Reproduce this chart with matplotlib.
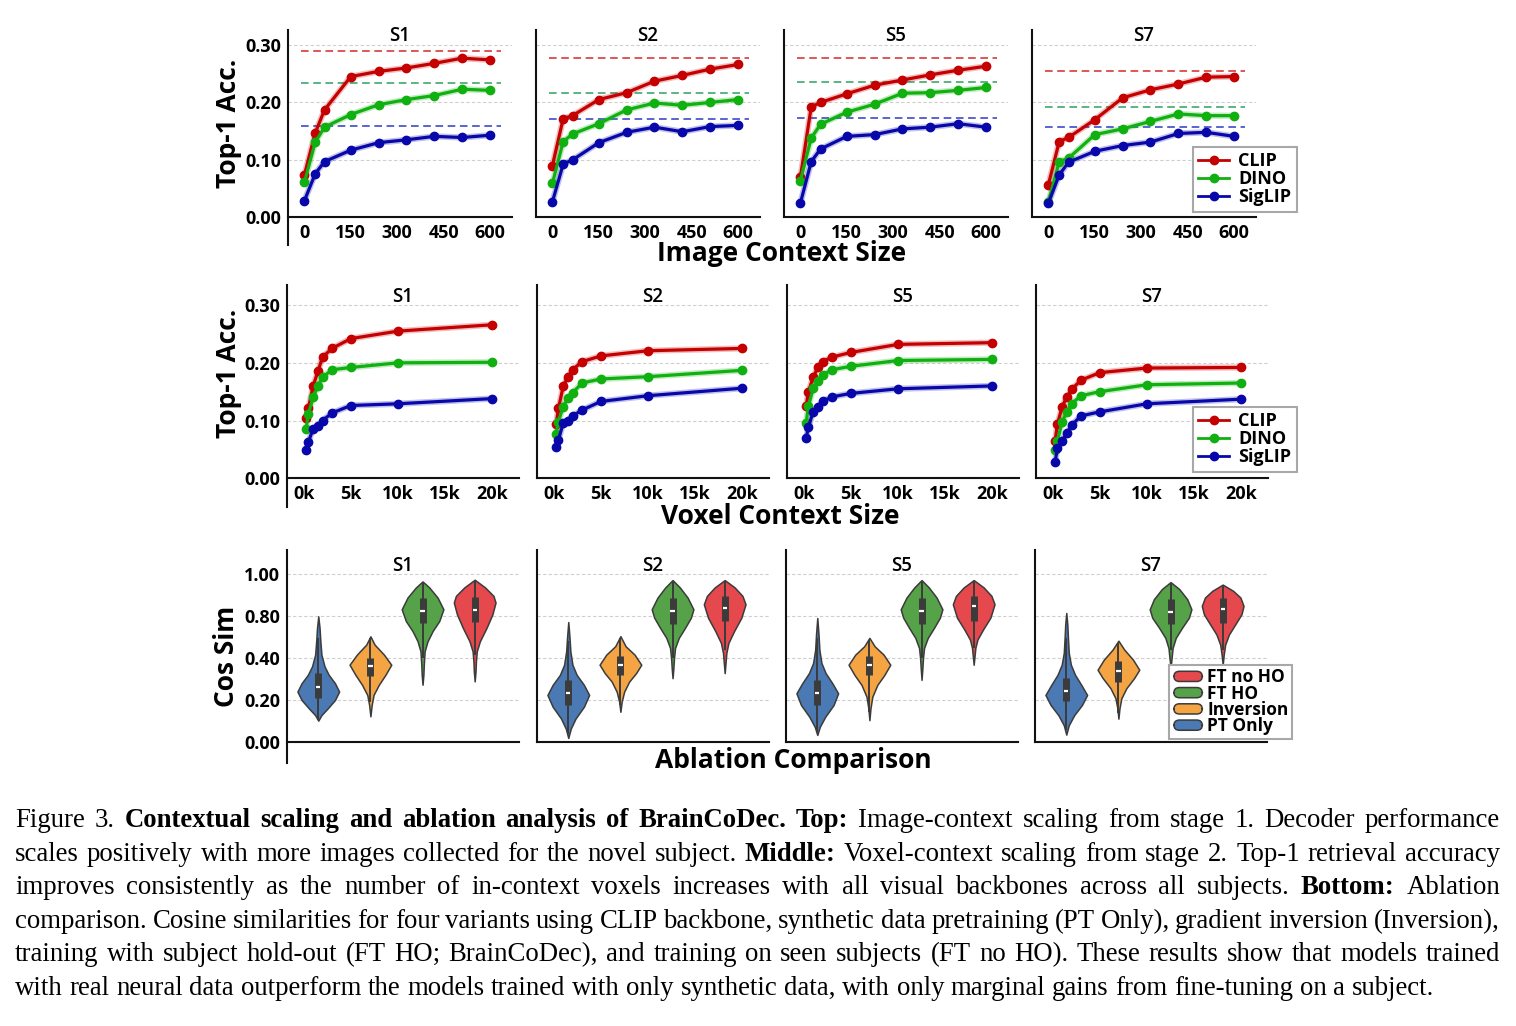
import numpy as np
import matplotlib
matplotlib.use("Agg")
import matplotlib.pyplot as plt
from matplotlib.lines import Line2D
from matplotlib.patches import Patch, FancyBboxPatch
from matplotlib.legend_handler import HandlerPatch

# ====================== DATA ======================
subjects = ["S1", "S2", "S5", "S7"]
backbones = ["CLIP", "DINO", "SigLIP"]

# ---- top row: image context scaling ----
img_ctx_x = [0, 35, 65, 150, 240, 330, 420, 510, 600]
img_xticks = [0, 150, 300, 450, 600]
acc_yticks = [0.0, 0.1, 0.2, 0.3]
acc_yticklabels = ["0.00", "0.10", "0.20", "0.30"]

img_s1 = {"CLIP":   [0.074, 0.147, 0.187, 0.245, 0.254, 0.260, 0.268, 0.277, 0.274],
          "DINO":   [0.061, 0.131, 0.157, 0.179, 0.196, 0.205, 0.212, 0.223, 0.221],
          "SigLIP": [0.029, 0.076, 0.097, 0.117, 0.130, 0.135, 0.141, 0.139, 0.143]}
img_s2 = {"CLIP":   [0.090, 0.172, 0.177, 0.205, 0.217, 0.237, 0.247, 0.258, 0.266],
          "DINO":   [0.059, 0.132, 0.145, 0.163, 0.187, 0.199, 0.195, 0.200, 0.205],
          "SigLIP": [0.027, 0.093, 0.100, 0.130, 0.148, 0.157, 0.149, 0.158, 0.160]}
img_s5 = {"CLIP":   [0.070, 0.192, 0.200, 0.215, 0.230, 0.239, 0.248, 0.256, 0.263],
          "DINO":   [0.064, 0.138, 0.162, 0.183, 0.197, 0.216, 0.217, 0.221, 0.226],
          "SigLIP": [0.025, 0.097, 0.119, 0.141, 0.144, 0.154, 0.157, 0.163, 0.157]}
img_s7 = {"CLIP":   [0.057, 0.132, 0.139, 0.170, 0.208, 0.222, 0.232, 0.244, 0.245],
          "DINO":   [0.027, 0.097, 0.103, 0.144, 0.154, 0.167, 0.180, 0.177, 0.177],
          "SigLIP": [0.025, 0.074, 0.096, 0.115, 0.125, 0.131, 0.146, 0.148, 0.141]}
# dashed reference levels
img_ref_s1 = {"CLIP": 0.290, "DINO": 0.233, "SigLIP": 0.159}
img_ref_s2 = {"CLIP": 0.278, "DINO": 0.216, "SigLIP": 0.171}
img_ref_s5 = {"CLIP": 0.277, "DINO": 0.235, "SigLIP": 0.173}
img_ref_s7 = {"CLIP": 0.254, "DINO": 0.192, "SigLIP": 0.158}
img_ref_span = [-10, 635]

# ---- middle row: voxel context scaling ----
vox_ctx_x = [250, 500, 1000, 1500, 2000, 3000, 5000, 10000, 20000]
vox_xticks = [0, 5000, 10000, 15000, 20000]
vox_xticklabels = ["0k", "5k", "10k", "15k", "20k"]

vox_s1 = {"CLIP":   [0.105, 0.122, 0.160, 0.185, 0.210, 0.225, 0.242, 0.255, 0.266],
          "DINO":   [0.086, 0.112, 0.140, 0.160, 0.175, 0.188, 0.192, 0.200, 0.201],
          "SigLIP": [0.049, 0.063, 0.086, 0.090, 0.100, 0.113, 0.126, 0.129, 0.138]}
vox_s2 = {"CLIP":   [0.094, 0.121, 0.159, 0.176, 0.188, 0.202, 0.212, 0.221, 0.225],
          "DINO":   [0.077, 0.098, 0.124, 0.139, 0.148, 0.165, 0.172, 0.176, 0.187],
          "SigLIP": [0.054, 0.067, 0.095, 0.100, 0.108, 0.118, 0.133, 0.143, 0.156]}
vox_s5 = {"CLIP":   [0.125, 0.150, 0.175, 0.192, 0.202, 0.210, 0.218, 0.232, 0.235],
          "DINO":   [0.096, 0.125, 0.156, 0.168, 0.179, 0.188, 0.194, 0.204, 0.206],
          "SigLIP": [0.069, 0.089, 0.115, 0.124, 0.133, 0.141, 0.147, 0.155, 0.160]}
vox_s7 = {"CLIP":   [0.065, 0.094, 0.124, 0.141, 0.154, 0.170, 0.183, 0.191, 0.192],
          "DINO":   [0.049, 0.065, 0.098, 0.115, 0.129, 0.143, 0.150, 0.162, 0.165],
          "SigLIP": [0.028, 0.052, 0.065, 0.078, 0.092, 0.108, 0.115, 0.129, 0.137]}

# ---- bottom row: ablation violins ----
variants = ["PT Only", "Inversion", "FT HO", "FT no HO"]
cos_yticks = [0.0, 0.25, 0.5, 0.75, 1.0]
cos_yticklabels = ["0.00", "0.20", "0.40", "0.80", "1.00"]

# density profile: levels (y) and relative half-width
vio_s1_levels = {"PT Only":   [0.127, 0.16, 0.20, 0.25, 0.30, 0.35, 0.40, 0.45, 0.52, 0.60, 0.68, 0.748],
                 "Inversion": [0.153, 0.22, 0.28, 0.34, 0.40, 0.46, 0.52, 0.58, 0.629],
                 "FT HO":     [0.341, 0.40, 0.46, 0.54, 0.60, 0.66, 0.72, 0.79, 0.86, 0.92, 0.956],
                 "FT no HO":  [0.361, 0.42, 0.48, 0.54, 0.60, 0.68, 0.76, 0.83, 0.87, 0.92, 0.966]}
vio_s1_widths = {"PT Only":   [0, 0.15, 0.45, 0.8, 1.0, 0.8, 0.5, 0.3, 0.15, 0.1, 0.06, 0],
                 "Inversion": [0, 0.06, 0.15, 0.4, 0.72, 1.0, 0.65, 0.2, 0],
                 "FT HO":     [0, 0.04, 0.06, 0.1, 0.24, 0.48, 0.8, 1.0, 0.72, 0.32, 0],
                 "FT no HO":  [0, 0.04, 0.06, 0.1, 0.25, 0.57, 0.85, 1.0, 0.9, 0.5, 0]}
vio_s1_box = {"PT Only": [0.13, 0.26, 0.325, 0.41, 0.62], "Inversion": [0.24, 0.39, 0.45, 0.50, 0.62],
              "FT HO": [0.50, 0.71, 0.778, 0.86, 0.95], "FT no HO": [0.52, 0.715, 0.788, 0.865, 0.96]}

vio_s2_levels = {"PT Only":   [0.024, 0.08, 0.14, 0.21, 0.28, 0.34, 0.40, 0.46, 0.54, 0.62, 0.714],
                 "Inversion": [0.18, 0.24, 0.30, 0.36, 0.41, 0.46, 0.52, 0.57, 0.63],
                 "FT HO":     [0.38, 0.44, 0.50, 0.56, 0.62, 0.68, 0.74, 0.79, 0.86, 0.92, 0.964],
                 "FT no HO":  [0.41, 0.47, 0.53, 0.59, 0.66, 0.74, 0.82, 0.87, 0.92, 0.964]}
vio_s2_widths = {"PT Only":   [0, 0.12, 0.35, 0.75, 1.0, 0.75, 0.4, 0.2, 0.1, 0.06, 0],
                 "Inversion": [0, 0.06, 0.18, 0.42, 0.75, 1.0, 0.68, 0.25, 0],
                 "FT HO":     [0, 0.04, 0.07, 0.12, 0.3, 0.6, 0.88, 1.0, 0.72, 0.35, 0],
                 "FT no HO":  [0, 0.04, 0.08, 0.18, 0.45, 0.8, 1.0, 0.85, 0.48, 0]}
vio_s2_box = {"PT Only": [0.05, 0.22, 0.29, 0.37, 0.60], "Inversion": [0.22, 0.40, 0.46, 0.51, 0.62],
              "FT HO": [0.50, 0.70, 0.78, 0.86, 0.95], "FT no HO": [0.55, 0.72, 0.80, 0.87, 0.955]}

vio_s5_levels = {"PT Only":   [0.042, 0.09, 0.15, 0.22, 0.29, 0.35, 0.41, 0.47, 0.55, 0.64, 0.738],
                 "Inversion": [0.13, 0.20, 0.27, 0.34, 0.40, 0.46, 0.52, 0.57, 0.62],
                 "FT HO":     [0.37, 0.44, 0.50, 0.56, 0.62, 0.68, 0.74, 0.79, 0.86, 0.92, 0.964],
                 "FT no HO":  [0.46, 0.51, 0.56, 0.61, 0.67, 0.74, 0.82, 0.87, 0.92, 0.964]}
vio_s5_widths = {"PT Only":   [0, 0.12, 0.38, 0.78, 1.0, 0.72, 0.4, 0.2, 0.1, 0.06, 0],
                 "Inversion": [0, 0.05, 0.14, 0.38, 0.72, 1.0, 0.68, 0.25, 0],
                 "FT HO":     [0, 0.04, 0.07, 0.12, 0.3, 0.6, 0.88, 1.0, 0.72, 0.35, 0],
                 "FT no HO":  [0, 0.04, 0.08, 0.18, 0.45, 0.8, 1.0, 0.85, 0.48, 0]}
vio_s5_box = {"PT Only": [0.06, 0.22, 0.29, 0.37, 0.62], "Inversion": [0.18, 0.40, 0.46, 0.51, 0.61],
              "FT HO": [0.50, 0.70, 0.78, 0.86, 0.95], "FT no HO": [0.56, 0.72, 0.81, 0.87, 0.955]}

vio_s7_levels = {"PT Only":   [0.044, 0.10, 0.16, 0.22, 0.28, 0.34, 0.40, 0.46, 0.53, 0.62, 0.70, 0.768],
                 "Inversion": [0.139, 0.20, 0.26, 0.32, 0.38, 0.43, 0.49, 0.55, 0.603],
                 "FT HO":     [0.44, 0.50, 0.56, 0.62, 0.68, 0.74, 0.79, 0.85, 0.91, 0.952],
                 "FT no HO":  [0.46, 0.52, 0.58, 0.64, 0.70, 0.76, 0.81, 0.86, 0.90, 0.937]}
vio_s7_widths = {"PT Only":   [0, 0.12, 0.38, 0.75, 1.0, 0.72, 0.42, 0.22, 0.12, 0.08, 0.05, 0],
                 "Inversion": [0, 0.05, 0.14, 0.38, 0.75, 1.0, 0.7, 0.28, 0],
                 "FT HO":     [0, 0.05, 0.1, 0.25, 0.55, 0.88, 1.0, 0.8, 0.42, 0],
                 "FT no HO":  [0, 0.05, 0.12, 0.3, 0.6, 0.9, 1.0, 0.85, 0.5, 0]}
vio_s7_box = {"PT Only": [0.07, 0.242, 0.302, 0.381, 0.62], "Inversion": [0.17, 0.36, 0.425, 0.48, 0.59],
              "FT HO": [0.55, 0.70, 0.774, 0.85, 0.94], "FT no HO": [0.55, 0.71, 0.792, 0.86, 0.93]}

caption_lines = [
    [("Figure 3.", False), ("Contextual scaling and ablation analysis of BrainCoDec.", True), ("Top:", True),
     ("Image-context scaling from stage 1. Decoder performance", False)],
    [("scales positively with more images collected for the novel subject.", False), ("Middle:", True),
     ("Voxel-context scaling from stage 2. Top-1 retrieval accuracy", False)],
    [("improves consistently as the number of in-context voxels increases with all visual backbones across all subjects.", False),
     ("Bottom:", True), ("Ablation", False)],
    [("comparison. Cosine similarities for four variants using CLIP backbone, synthetic data pretraining (PT Only), gradient inversion (Inversion),", False)],
    [("training with subject hold-out (FT HO; BrainCoDec), and training on seen subjects (FT no HO). These results show that models trained", False)],
    [("with real neural data outperform the models trained with only synthetic data, with only marginal gains from fine-tuning on a subject.", False)],
]

# ====================== STYLE ======================
W, H, DPI = 1516, 1026, 100
FONT = ["Open Sans", "DejaVu Sans"]
plt.rcParams["font.family"] = FONT
line_colors = {"CLIP": "#c40000", "DINO": "#0fb00f", "SigLIP": "#0808aa"}
ref_colors = {"CLIP": "#d42a2a", "DINO": "#2ea060", "SigLIP": "#2c3cc4"}
vio_colors = {"PT Only": "#4a79b3", "Inversion": "#f4a443", "FT HO": "#55a249", "FT no HO": "#e5484d"}
EDGE = "#3b3b3b"
TICK_FS = 13
LABEL_FS = 19

fig = plt.figure(figsize=(W / DPI, H / DPI), dpi=DPI)


def add_ax(left, top, width, height):
    return fig.add_axes([left / W, 1 - (top + height) / H, width / W, height / H])


def style_ax(ax, col, title, title_y):
    for s in ("top", "right"):
        ax.spines[s].set_visible(False)
    for s in ("left", "bottom"):
        ax.spines[s].set_linewidth(1.5)
        ax.spines[s].set_color("#111111")
    ax.spines["bottom"].set_position(("data", 0))
    if col > 0:
        ax.spines["left"].set_bounds(0, ax.get_ylim()[1])
    ax.tick_params(length=0, labelsize=TICK_FS, pad=5)
    for lab in ax.get_xticklabels() + ax.get_yticklabels():
        lab.set_fontweight("bold")
    ax.yaxis.grid(True, linestyle=(0, (3, 2)), color="#cfcfcf", linewidth=0.8)
    ax.set_axisbelow(True)
    if col > 0:
        ax.tick_params(labelleft=False)
    ax.text(0.5, title_y, title, transform=ax.transAxes, ha="center", va="center",
            fontsize=13.5, fontweight="semibold")


img_data = [img_s1, img_s2, img_s5, img_s7]
img_refs = [img_ref_s1, img_ref_s2, img_ref_s5, img_ref_s7]
vox_data = [vox_s1, vox_s2, vox_s5, vox_s7]
vio_levels = [vio_s1_levels, vio_s2_levels, vio_s5_levels, vio_s7_levels]
vio_widths = [vio_s1_widths, vio_s2_widths, vio_s5_widths, vio_s7_widths]
vio_boxes = [vio_s1_box, vio_s2_box, vio_s5_box, vio_s7_box]

top_lefts = [288, 536, 784, 1032]
mid_lefts = [287, 537, 787, 1036]
bot_lefts = [287, 537, 786, 1035]

# ---------- top row ----------
top_axes = []
for c, subj in enumerate(subjects):
    ax = add_ax(top_lefts[c], 30, 224, 215)
    ax.set_xlim(-53, 671)
    ax.set_ylim(-0.048, 0.326)
    for b in backbones:
        ax.hlines(img_refs[c][b], img_ref_span[0], img_ref_span[1], colors=ref_colors[b],
                  linestyles=(0, (5, 3)), linewidth=1.1, zorder=2)
    for b in backbones:
        ax.plot(img_ctx_x, img_data[c][b], color=line_colors[b], lw=4.5, alpha=0.25, zorder=3)
        ax.plot(img_ctx_x, img_data[c][b], color=line_colors[b], lw=2.3, marker="o", ms=6, zorder=4)
    ax.set_xticks(img_xticks)
    ax.set_xticklabels([str(v) for v in img_xticks])
    ax.set_yticks(acc_yticks)
    ax.set_yticklabels(acc_yticklabels)
    style_ax(ax, c, subj, 0.973)
    top_axes.append(ax)

# ---------- middle row ----------
mid_axes = []
for c, subj in enumerate(subjects):
    ax = add_ax(mid_lefts[c], 285, 232, 222)
    ax.set_xlim(-1780, 22870)
    ax.set_ylim(-0.05, 0.335)
    for b in backbones:
        ax.plot(vox_ctx_x, vox_data[c][b], color=line_colors[b], lw=4.5, alpha=0.25, zorder=3)
        ax.plot(vox_ctx_x, vox_data[c][b], color=line_colors[b], lw=2.3, marker="o", ms=6, zorder=4)
    ax.set_xticks(vox_xticks)
    ax.set_xticklabels(vox_xticklabels)
    ax.set_yticks(acc_yticks)
    ax.set_yticklabels(acc_yticklabels)
    style_ax(ax, c, subj, 0.947)
    mid_axes.append(ax)

# ---------- bottom row ----------
bot_axes = []
for c, subj in enumerate(subjects):
    ax = add_ax(bot_lefts[c], 550, 232, 213)
    ax.set_xlim(-0.6, 3.85)
    ax.set_ylim(-0.125, 1.143)
    for i, v in enumerate(variants):
        lv = np.asarray(vio_levels[c][v], dtype=float)
        wv = np.asarray(vio_widths[c][v], dtype=float)
        lo, q1, med, q3, hi = vio_boxes[c][v]
        st = dict(coords=lv, vals=wv, mean=med, median=med, min=lv[0], max=lv[-1])
        parts = ax.violin([st], positions=[i], widths=0.8, showmeans=False,
                          showextrema=False, showmedians=False)
        for body in parts["bodies"]:
            body.set_facecolor(vio_colors[v])
            body.set_edgecolor(EDGE)
            body.set_linewidth(1.1)
            body.set_alpha(1)
            body.set_zorder(3)
        ax.vlines(i, lo, hi, color=EDGE, lw=1.4, zorder=4)
        ax.vlines(i, q1, q3, color=EDGE, lw=5, zorder=5)
        ax.hlines(med, i - 0.04, i + 0.04, color="white", lw=1.6, zorder=6)
    ax.set_xticks([])
    ax.set_yticks(cos_yticks)
    ax.set_yticklabels(cos_yticklabels)
    style_ax(ax, c, subj, 0.926)
    bot_axes.append(ax)

# ---------- legends ----------
leg_prop = dict(family=FONT, weight="bold", size=13)
line_handles = [Line2D([], [], color=line_colors[b], lw=2.0, marker="o", ms=6) for b in backbones]
for ax, top_px in ((top_axes[3], 147), (mid_axes[3], 407)):
    lg = ax.legend(line_handles, backbones, loc="upper left",
                   bbox_to_anchor=(1193 / W, 1 - top_px / H), bbox_transform=fig.transFigure,
                   borderaxespad=0, frameon=True, fancybox=False, framealpha=1,
                   edgecolor="#a8a8a8", prop=leg_prop, handlelength=1.7, handletextpad=0.5,
                   labelspacing=0.0, borderpad=0.3)
    lg.get_frame().set_linewidth(1.5)
    lg.set_zorder(10)


class RoundPatchHandler(HandlerPatch):
    def create_artists(self, legend, orig_handle, xdescent, ydescent, width, height, fontsize, trans):
        p = FancyBboxPatch((-xdescent + 1, -ydescent + 0.5), width - 2, height - 1,
                           boxstyle="round,pad=0,rounding_size=4",
                           facecolor=orig_handle.get_facecolor(), edgecolor=EDGE, lw=1.1,
                           transform=trans)
        return [p]


leg_order = ["FT no HO", "FT HO", "Inversion", "PT Only"]
vio_handles = [Patch(facecolor=vio_colors[v], edgecolor=EDGE) for v in leg_order]
lg = bot_axes[3].legend(vio_handles, leg_order, loc="upper left",
                        bbox_to_anchor=(1169 / W, 1 - 665 / H), bbox_transform=fig.transFigure,
                        borderaxespad=0, frameon=True, fancybox=False, framealpha=1,
                        edgecolor="#a8a8a8", prop=dict(family=FONT, weight="bold", size=12.5),
                        handlelength=1.8, handleheight=0.65, handletextpad=0.2,
                        labelspacing=-0.1, borderpad=0.2,
                        handler_map={Patch: RoundPatchHandler()})
lg.get_frame().set_linewidth(1.5)
lg.set_zorder(10)

# ---------- shared labels ----------
fig.text(229 / W, 1 - 123 / H, "Top-1 Acc.", rotation=90, ha="center", va="center",
         fontsize=LABEL_FS, fontweight="bold")
fig.text(229 / W, 1 - 373 / H, "Top-1 Acc.", rotation=90, ha="center", va="center",
         fontsize=LABEL_FS, fontweight="bold")
fig.text(227 / W, 1 - 656 / H, "Cos Sim", rotation=90, ha="center", va="center",
         fontsize=LABEL_FS, fontweight="bold")
fig.text(782 / W, 1 - 254 / H, "Image Context Size", ha="center", va="center",
         fontsize=LABEL_FS, fontweight="bold")
fig.text(780 / W, 1 - 516 / H, "Voxel Context Size", ha="center", va="center",
         fontsize=LABEL_FS, fontweight="bold")
fig.text(793 / W, 1 - 760 / H, "Ablation Comparison", ha="center", va="center",
         fontsize=LABEL_FS, fontweight="bold")

# ---------- caption (justified) ----------
renderer = fig.canvas.get_renderer()
CAP_FONT = ["Liberation Serif", "DejaVu Serif"]
X0, X1 = 15, 1500
LAST_LINE_END = 1440
BASE0, LSTEP = 827, 33.6


def measure(word, bold, fs):
    t = fig.text(0, 0, word, fontsize=fs, family=CAP_FONT, fontweight="bold" if bold else "normal")
    w = t.get_window_extent(renderer=renderer).width
    t.remove()
    return w


def line_words(segs):
    out = []
    for txt, b in segs:
        for w in txt.split():
            out.append((w, b))
    return out


def natural_width(segs, fs, space_scale=1.0):
    ws = line_words(segs)
    sp = 0.25 * fs * DPI / 72 * space_scale
    return sum(measure(w, b, fs) for w, b in ws) + (len(ws) - 1) * sp


# size the caption so the (ragged) last line ends where it does in the reference
base_fs = 15.0
cap_fs = base_fs * (LAST_LINE_END - X0) / natural_width(caption_lines[-1], base_fs)
# make sure justified lines still fit with tight (70%) word spaces
worst = max(natural_width(segs, cap_fs, 0.7) / (X1 - X0) for segs in caption_lines[:-1])
if worst > 1:
    cap_fs = cap_fs / worst

for li, segs in enumerate(caption_lines):
    ws = line_words(segs)
    widths = [measure(w, b, cap_fs) for w, b in ws]
    if li < len(caption_lines) - 1:
        gap = (X1 - X0 - sum(widths)) / (len(ws) - 1)
    else:
        gap = 0.25 * cap_fs * DPI / 72
    x = X0
    y = BASE0 + li * LSTEP
    for (w, b), wd in zip(ws, widths):
        fig.text(x / W, 1 - y / H, w, fontsize=cap_fs, family=CAP_FONT,
                 fontweight="bold" if b else "normal", ha="left", va="baseline")
        x += wd + gap

fig.savefig("out.png", dpi=DPI, facecolor="white")
